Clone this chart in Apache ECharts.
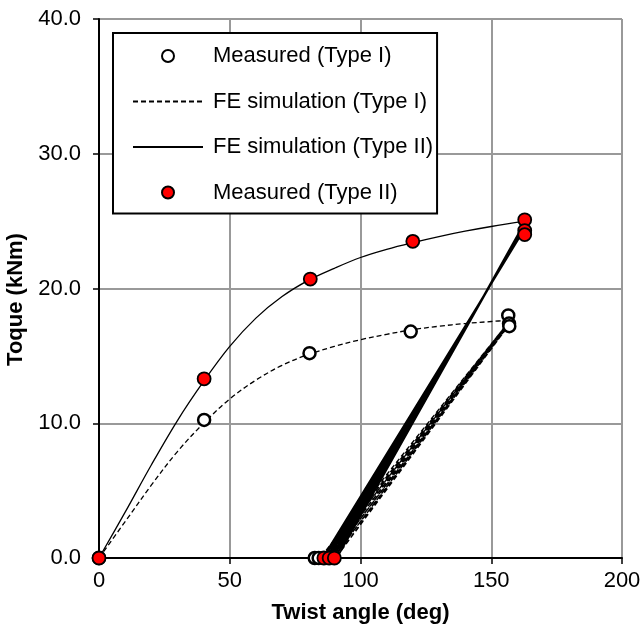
<!DOCTYPE html>
<html>
<head>
<meta charset="utf-8">
<script src="https://cdn.jsdelivr.net/npm/echarts@6/dist/echarts.min.js"></script>
<style>
html,body{margin:0;padding:0;background:#fff;}
#chart{width:643px;height:624px;}
</style>
</head>
<body>
<div id="chart"></div>
<script>
// ---- Data ----
const xTicks = [0, 50, 100, 150, 200];
const yTicks = [0, 10, 20, 30, 40];

// Measured (Type I) - open circles
const measI_x = [0, 40.2, 80.5, 119.2, 156.5, 156.8, 156.9, 82.5, 84.0];
const measI_y = [0, 10.25, 15.2, 16.8, 18.0, 17.4, 17.2, 0, 0];

// Measured (Type II) - red circles
const measII_x = [0, 40.2, 80.8, 120.0, 162.8, 162.8, 162.8, 86.0, 88.0, 90.0];
const measII_y = [0, 13.3, 20.7, 23.5, 25.1, 24.3, 24.0, 0, 0, 0];

// FE simulation (Type I) - monotonic loading curve (dashed)
const feI_load_x = [0, 10, 20, 30, 40, 50, 60, 70, 80, 90, 100, 110, 120, 130, 140, 150, 157];
const feI_load_y = [0, 2.7, 5.4, 7.9, 10.0, 11.8, 13.2, 14.3, 15.1, 15.7, 16.2, 16.6, 16.95, 17.2, 17.4, 17.55, 17.65];
// FE simulation (Type I) - cyclic unloading / reloading path
const feI_cyc_x = [157, 90.5, 158.0, 89.5, 157.5, 88.5, 156.8, 87.5, 156.2, 86.5, 155.6, 85.5, 155.0, 84.5];
const feI_cyc_y = [17.65, 0, 17.6, 0, 17.5, 0, 17.4, 0, 17.3, 0, 17.2, 0, 17.1, 0];

// FE simulation (Type II) - monotonic loading curve (solid)
const feII_load_x = [0, 10, 20, 30, 40, 50, 60, 70, 80, 90, 100, 110, 120, 130, 140, 150, 163];
const feII_load_y = [0, 3.4, 6.9, 10.2, 13.1, 15.7, 17.8, 19.4, 20.6, 21.5, 22.3, 22.9, 23.4, 23.85, 24.25, 24.6, 25.0];
// FE simulation (Type II) - cyclic unloading / reloading path
const feII_cyc_x = [163, 91.0, 163.2, 90.2, 162.9, 89.4, 162.7, 88.6, 162.5, 87.8, 162.3, 87.0, 162.0, 86.2, 161.8, 85.5];
const feII_cyc_y = [25.0, 0, 24.9, 0, 24.8, 0, 24.6, 0, 24.5, 0, 24.4, 0, 24.2, 0, 24.1, 0];

const names = ['Measured (Type I)', 'FE simulation (Type I)', 'FE simulation (Type II)', 'Measured (Type II)'];

function pairs(xs, ys) { return xs.map((x, i) => [x, ys[i]]); }

const FONT = '"Liberation Sans", Arial, sans-serif';
const chart = echarts.init(document.getElementById('chart'), null, {renderer: 'canvas'});

const option = {
  backgroundColor: '#fff',
  animation: false,
  grid: {left: 99, right: 21, top: 19, bottom: 66, containLabel: false, outerBoundsMode: 'none'},
  legend: {
    orient: 'vertical',
    left: 113, top: 33,
    padding: [11, 4, 9, 19],
    itemGap: 21.5,
    itemWidth: 70,
    itemHeight: 12,
    borderColor: '#000',
    borderWidth: 2,
    backgroundColor: '#fff',
    textStyle: {fontSize: 22, fontFamily: FONT, color: '#000', lineHeight: 24, padding: [0, 0, 0, 5]},
    data: [
      {name: names[0]},
      {name: names[1], itemStyle: {opacity: 0}},
      {name: names[2], itemStyle: {opacity: 0}},
      {name: names[3]}
    ]
  },
  xAxis: {
    type: 'value', min: 0, max: 200, interval: 50,
    name: 'Twist angle (deg)', nameLocation: 'middle', nameGap: 44,
    nameTextStyle: {fontSize: 22, fontWeight: 'bold', fontFamily: FONT, color: '#000'},
    axisLine: {show: true, onZero: false, lineStyle: {color: '#000', width: 2}},
    axisTick: {show: true, inside: false, length: 6, lineStyle: {color: '#000', width: 1.5}},
    axisLabel: {fontSize: 22, fontFamily: FONT, color: '#000', margin: 12,
      formatter: v => xTicks.includes(v) ? String(v) : ''},
    splitLine: {show: true, lineStyle: {color: '#999', width: 2}}
  },
  yAxis: {
    type: 'value', min: 0, max: 40, interval: 10,
    name: 'Toque (kNm)', nameLocation: 'middle', nameGap: 62, nameRotate: 90,
    nameTextStyle: {fontSize: 22, fontWeight: 'bold', fontFamily: FONT, color: '#000', padding: [0, 22, 0, 0]},
    axisLine: {show: true, onZero: false, lineStyle: {color: '#000', width: 2}},
    axisTick: {show: true, inside: false, length: 6, lineStyle: {color: '#000', width: 1.5}},
    axisLabel: {fontSize: 22, fontFamily: FONT, color: '#000', margin: 18,
      formatter: v => yTicks.includes(v) ? v.toFixed(1) : ''},
    splitLine: {show: true, lineStyle: {color: '#999', width: 2}}
  },
  series: [
    {
      name: names[1], type: 'line', data: pairs(feI_load_x, feI_load_y),
      smooth: 0.35, symbol: 'none', z: 2,
      lineStyle: {color: '#000', width: 1.3, type: [5, 3]}, itemStyle: {color: '#000'}
    },
    {
      name: names[1], type: 'line', data: pairs(feI_cyc_x, feI_cyc_y),
      symbol: 'none', z: 2,
      lineStyle: {color: '#000', width: 1.4, type: [5, 3]}, itemStyle: {color: '#000'}
    },
    {
      name: names[2], type: 'line', data: pairs(feII_load_x, feII_load_y),
      smooth: 0.35, symbol: 'none', z: 3,
      lineStyle: {color: '#000', width: 1.3, type: 'solid'}, itemStyle: {color: '#000'}
    },
    {
      name: names[2], type: 'line', data: pairs(feII_cyc_x, feII_cyc_y),
      symbol: 'none', z: 3,
      lineStyle: {color: '#000', width: 1.6, type: 'solid'}, itemStyle: {color: '#000'}
    },
    {
      name: names[0], type: 'scatter', data: pairs(measI_x, measI_y),
      symbol: 'circle', symbolSize: 12, z: 5,
      itemStyle: {color: '#fff', borderColor: '#000', borderWidth: 2.5, opacity: 1}
    },
    {
      name: names[3], type: 'scatter', data: pairs(measII_x, measII_y),
      symbol: 'circle', symbolSize: 13, z: 6,
      itemStyle: {color: '#ff0000', borderColor: '#000', borderWidth: 1.8, opacity: 1}
    }
  ]
};
chart.setOption(option);
</script>
</body>
</html>
